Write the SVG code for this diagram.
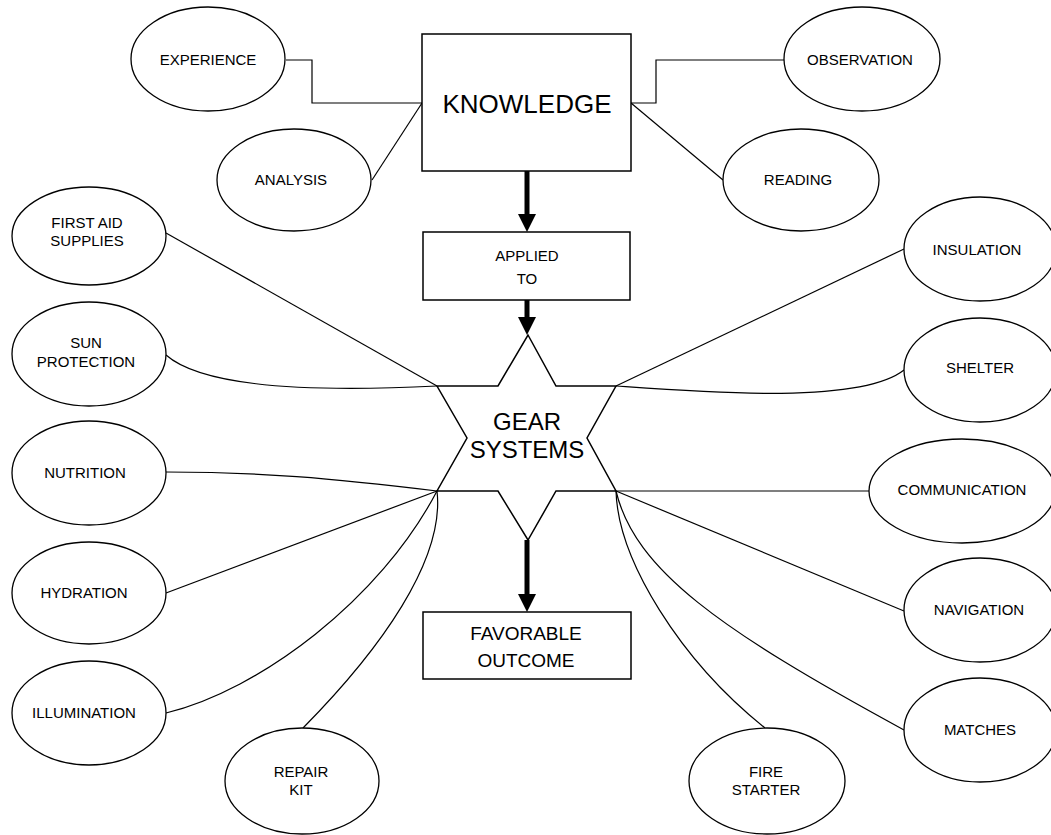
<svg xmlns="http://www.w3.org/2000/svg" width="1051" height="835" viewBox="0 0 1051 835">
<style>
.bg{fill:#fff}
.el{fill:#fff;stroke:#000;stroke-width:1.3}
.bx{fill:#fff;stroke:#000;stroke-width:1.5}
.ln{fill:none;stroke:#000;stroke-width:1.2}
.ar{fill:none;stroke:#000;stroke-width:5}
text{font-family:"Liberation Sans",Arial,sans-serif;fill:#000;text-anchor:middle}
.t{font-size:15px}
.tb{font-size:26px}
.tg{font-size:24px}
.tf{font-size:19px}
</style>
<defs>
<marker id="ah" viewBox="0 0 18 18" refX="4" refY="9" markerWidth="18" markerHeight="18" markerUnits="userSpaceOnUse" orient="auto">
<path d="M0,0 L18,9 L0,18 z" fill="#000"/>
</marker>
</defs>
<rect class="bg" x="0" y="0" width="1051" height="835"/>
<g id="connectors">
<polyline class="ln" points="286,60 312,60 312,103 422,103"/>
<line class="ln" x1="422" y1="103" x2="372" y2="180"/>
<polyline class="ln" points="631,103 656,103 656,60 784,60"/>
<line class="ln" x1="631" y1="103" x2="723" y2="180"/>
<line class="ln" x1="166" y1="233" x2="437" y2="386"/>
<path class="ln" d="M166,355 C200,385 300,393 437,386"/>
<line class="ln" x1="616" y1="386" x2="904" y2="249"/>
<path class="ln" d="M616,386 C700,392 860,405 904,370"/>
<path class="ln" d="M166,472 C260,472 330,478 437,491"/>
<line class="ln" x1="166" y1="593" x2="437" y2="491"/>
<path class="ln" d="M166,713 C260,690 380,600 437,491"/>
<path class="ln" d="M303,728 C380,650 445,560 437,491"/>
<line class="ln" x1="616" y1="491" x2="869" y2="491"/>
<line class="ln" x1="616" y1="491" x2="904" y2="611"/>
<path class="ln" d="M616,491 C635,570 720,630 904,730"/>
<path class="ln" d="M616,491 C618,560 680,660 765,728"/>
<line class="ar" x1="527" y1="171" x2="527" y2="218" marker-end="url(#ah)"/>
<line class="ar" x1="527" y1="300" x2="527" y2="321" marker-end="url(#ah)"/>
<line class="ar" x1="527" y1="540" x2="527" y2="598" marker-end="url(#ah)"/>
</g>
<g id="knowledge"><rect class="bx" x="422" y="34" width="209" height="137"/><text class="tb" x="527" y="113">KNOWLEDGE</text></g>
<g id="applied"><rect class="bx" x="423" y="232" width="207" height="68"/><text class="t" x="527" y="261">APPLIED</text><text class="t" x="527" y="284">TO</text></g>
<g id="gear"><polygon class="bx" points="528,335 556,386 616,386 587,438 616,491 556,491 528,540 498,491 437,491 467,438 437,386 498,386"/><text class="tg" x="527" y="430">GEAR</text><text class="tg" x="527" y="458">SYSTEMS</text></g>
<g id="outcome"><rect class="bx" x="423" y="612" width="208" height="67"/><text class="tf" x="526" y="640">FAVORABLE</text><text class="tf" x="526" y="667">OUTCOME</text></g>
<g id="experience"><ellipse class="el" cx="208" cy="59" rx="77" ry="52"/><text class="t" x="208" y="65">EXPERIENCE</text></g>
<g id="analysis"><ellipse class="el" cx="294" cy="180" rx="77" ry="51"/><text class="t" x="291" y="185">ANALYSIS</text></g>
<g id="observation"><ellipse class="el" cx="862" cy="59" rx="78" ry="52"/><text class="t" x="860" y="65">OBSERVATION</text></g>
<g id="reading"><ellipse class="el" cx="801" cy="180" rx="78" ry="51"/><text class="t" x="798" y="185">READING</text></g>
<g id="firstaid"><ellipse class="el" cx="89" cy="236" rx="77" ry="49"/><text class="t" x="87" y="228">FIRST AID</text><text class="t" x="87" y="246">SUPPLIES</text></g>
<g id="sun"><ellipse class="el" cx="89" cy="354" rx="77" ry="52"/><text class="t" x="86" y="348">SUN</text><text class="t" x="86" y="367">PROTECTION</text></g>
<g id="nutrition"><ellipse class="el" cx="89" cy="473" rx="77" ry="52"/><text class="t" x="85" y="478">NUTRITION</text></g>
<g id="hydration"><ellipse class="el" cx="89" cy="593" rx="77" ry="51"/><text class="t" x="84" y="598">HYDRATION</text></g>
<g id="illumination"><ellipse class="el" cx="89" cy="713" rx="77" ry="52"/><text class="t" x="84" y="718">ILLUMINATION</text></g>
<g id="repair"><ellipse class="el" cx="302" cy="781" rx="77" ry="53"/><text class="t" x="301" y="777">REPAIR</text><text class="t" x="301" y="795">KIT</text></g>
<g id="insulation"><ellipse class="el" cx="980" cy="249" rx="76" ry="52"/><text class="t" x="977" y="255">INSULATION</text></g>
<g id="shelter"><ellipse class="el" cx="980" cy="370" rx="76" ry="52"/><text class="t" x="980" y="373">SHELTER</text></g>
<g id="communication"><ellipse class="el" cx="962" cy="491" rx="93" ry="52"/><text class="t" x="962" y="495">COMMUNICATION</text></g>
<g id="navigation"><ellipse class="el" cx="980" cy="610" rx="76" ry="52"/><text class="t" x="979" y="615">NAVIGATION</text></g>
<g id="matches"><ellipse class="el" cx="980" cy="730" rx="76" ry="52"/><text class="t" x="980" y="735">MATCHES</text></g>
<g id="firestarter"><ellipse class="el" cx="767" cy="781" rx="78" ry="53"/><text class="t" x="766" y="777">FIRE</text><text class="t" x="766" y="795">STARTER</text></g>
</svg>
